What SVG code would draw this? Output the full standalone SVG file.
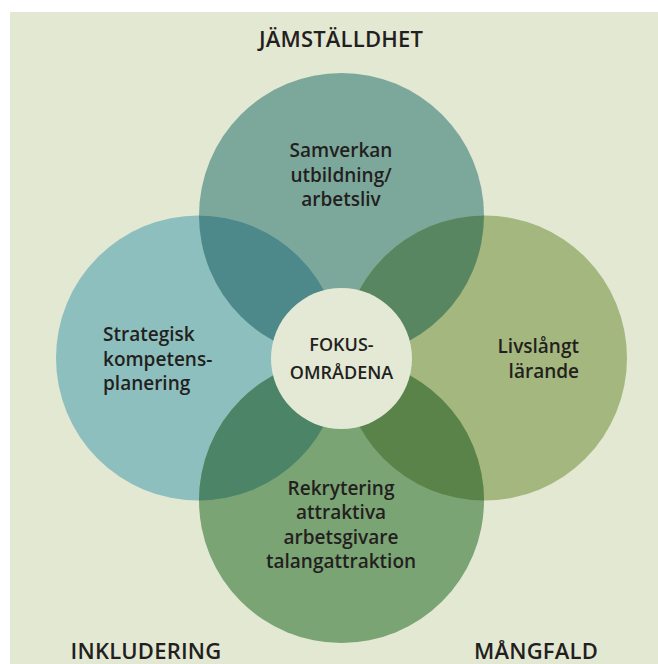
<svg xmlns="http://www.w3.org/2000/svg" width="658" height="664" viewBox="0 0 658 664">
  <defs>
    <style>
      .t { font-family: "Open Sans", "Liberation Sans", sans-serif; font-weight: 600; fill: #231f20; }
      .body { font-size: 19px; }
      .head { font-size: 22px; letter-spacing: 0.2px; }
      .center { font-size: 18px; }
    </style>
    <clipPath id="clipTop"><circle cx="341.5" cy="215.5" r="142.5"/></clipPath>
    <clipPath id="clipBottom"><circle cx="341.5" cy="500.5" r="142.5"/></clipPath>
  </defs>
  <rect x="0" y="0" width="658" height="664" fill="#ffffff"/>
  <rect x="10" y="12" width="648" height="652" fill="#e3e8d3"/>

  <g id="circles">
    <circle id="c-top" cx="341.5" cy="215.5" r="142.5" fill="#7ca89b"/>
    <circle id="c-left" cx="198.5" cy="358" r="142.5" fill="#8dbfbe"/>
    <circle id="c-right" cx="484.5" cy="358" r="142.5" fill="#a4b77e"/>
    <circle id="c-bottom" cx="341.5" cy="500.5" r="142.5" fill="#7ba474"/>
    <circle cx="198.5" cy="358" r="142.5" fill="#4d898a" clip-path="url(#clipTop)"/>
    <circle cx="484.5" cy="358" r="142.5" fill="#578660" clip-path="url(#clipTop)"/>
    <circle cx="198.5" cy="358" r="142.5" fill="#4c8468" clip-path="url(#clipBottom)"/>
    <circle cx="484.5" cy="358" r="142.5" fill="#5a8349" clip-path="url(#clipBottom)"/>
  </g>

  <g id="connectors"></g>

  <g id="node-top">
    <text class="t body" text-anchor="middle" x="341" y="157">Samverkan</text>
    <text class="t body" text-anchor="middle" x="341" y="181.5">utbildning/</text>
    <text class="t body" text-anchor="middle" x="341" y="205.5">arbetsliv</text>
  </g>
  <g id="node-left">
    <text class="t body" x="103" y="341">Strategisk</text>
    <text class="t body" x="103" y="365.5">kompetens-</text>
    <text class="t body" x="103" y="390">planering</text>
  </g>
  <g id="node-right">
    <text class="t body" text-anchor="end" x="579" y="353">Livslångt</text>
    <text class="t body" text-anchor="end" x="579" y="377.5">lärande</text>
  </g>
  <g id="node-bottom">
    <text class="t body" text-anchor="middle" x="341" y="495">Rekrytering</text>
    <text class="t body" text-anchor="middle" x="341" y="519">attraktiva</text>
    <text class="t body" text-anchor="middle" x="341" y="543.5">arbetsgivare</text>
    <text class="t body" text-anchor="middle" x="341" y="568">talangattraktion</text>
  </g>
  <g id="node-center">
    <circle cx="341.5" cy="358.5" r="70.5" fill="#e4e9d5"/>
    <text class="t center" text-anchor="middle" x="341.5" y="351">FOKUS-</text>
    <text class="t center" text-anchor="middle" x="341.5" y="379">OMRÅDENA</text>
  </g>
  <g id="labels">
    <text class="t head" text-anchor="middle" x="341" y="47">JÄMSTÄLLDHET</text>
    <text class="t head" text-anchor="middle" x="146" y="659">INKLUDERING</text>
    <text class="t head" text-anchor="middle" x="536" y="659">MÅNGFALD</text>
  </g>
</svg>
